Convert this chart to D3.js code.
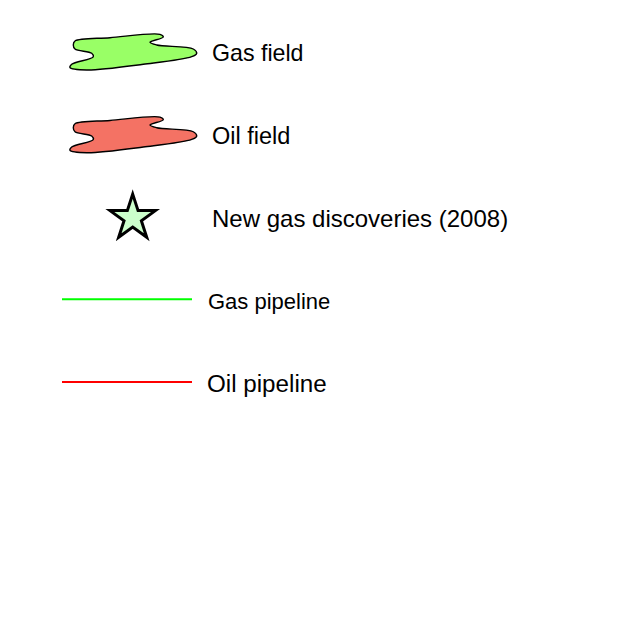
<!DOCTYPE html>
<html>
<head>
<meta charset="utf-8">
<script src="https://cdn.jsdelivr.net/npm/d3@7"></script>
<style>
  body { margin: 0; background: #fff; }
  svg { display: block; }
  text { font-family: "Liberation Sans", Arial, sans-serif; fill: #000; }
</style>
</head>
<body>
<svg id="chart" width="637" height="628"></svg>
<script>
// legend entries
const labels = ["Gas field", "Oil field", "New gas discoveries (2008)", "Gas pipeline", "Oil pipeline"];
const kinds = ["blob", "blob", "star", "line", "line"];
const fills = ["#99ff66", "#f47264", "#ccffcc", "#00ff00", "#ff0000"];
const fontSizes = [23.2, 23.5, 24, 22, 24.2];
const textX = [212, 212, 212, 208, 207];

// blob outline, relative to its own box
const blobPts = [
    [73.3, 45], [75, 41], [110, 37.7], [160, 34.3], [163.3, 37], [150, 42.3],
    [156.7, 45], [193.3, 49], [196.7, 53.3], [191.7, 56.7], [143.3, 64.3],
    [86.7, 70], [70, 67.7], [71.7, 64.3], [93.3, 56.7], [91.7, 53.3], [75, 49]
];

const svg = d3.select("#chart");

// baseline of each row's text
const y = d3.scalePoint().domain(labels).range([61, 392]);

const blobLine = d3.line().curve(d3.curveCatmullRomClosed.alpha(0.5));

labels.forEach((lab, i) => {
    const g = svg.append("g");
    const base = y(lab);

    if (kinds[i] == "blob") {
        g.append("path")
            .attr("d", blobLine(blobPts))
            .attr("transform", "translate(0," + (base - 61) + ")")
            .attr("fill", fills[i])
            .attr("stroke", "#000")
            .attr("stroke-width", 1.4);
    } else if (kinds[i] == "star") {
        const star = d3.symbol().type(d3.symbolStar).size(640);
        g.append("path")
            .attr("d", star())
            .attr("transform", "translate(132.7," + (base - 8.5) + ")")
            .attr("fill", fills[i])
            .attr("stroke", "#000")
            .attr("stroke-width", 3)
            .attr("stroke-linejoin", "miter");
    } else {
        g.append("line")
            .attr("x1", 62).attr("x2", 192)
            .attr("y1", base - 10).attr("y2", base - 10)
            .attr("stroke", fills[i])
            .attr("stroke-width", 2.2);
    }

    g.append("text")
        .attr("x", textX[i])
        .attr("y", base)
        .style("font-size", fontSizes[i] + "px")
        .text(lab);
});
</script>
</body>
</html>
